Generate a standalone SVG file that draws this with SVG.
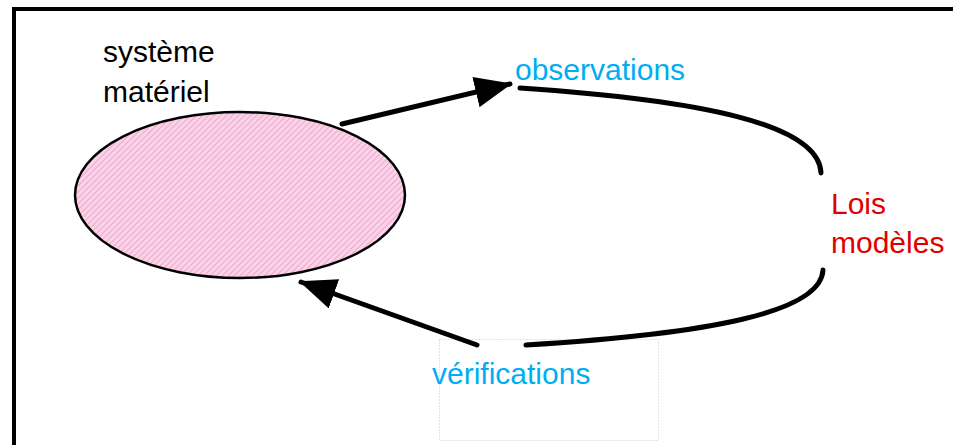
<svg xmlns="http://www.w3.org/2000/svg" width="953" height="445" viewBox="0 0 953 445">
  <style>
    .lbl { font-family: "Liberation Sans", Arial, sans-serif; font-size: 30px; }
    .blue { fill: #00aeef; }
    .red { fill: #e00000; }
    .black { fill: #000000; }
    .conn { fill: none; stroke: #000; stroke-width: 5; stroke-linecap: round; }
    .frame { stroke: #000; stroke-width: 4; fill: none; }
  </style>
  <defs>
    <pattern id="hatch" patternUnits="userSpaceOnUse" x="0" y="0" width="6" height="6">
      <rect x="0" y="0" width="6" height="6" fill="#fad3e8"/>
      <path d="M-1.5,1.5 L1.5,-1.5 M0,6 L6,0 M4.5,7.5 L7.5,4.5" stroke="#f4a8d2" stroke-width="1.2" fill="none"/>
    </pattern>
    <marker id="arrow" markerUnits="userSpaceOnUse" viewBox="0 0 37 31" markerWidth="37" markerHeight="31" refX="35" refY="15.5" orient="auto">
      <path d="M0,0 L37,15.5 L0,31 z" fill="#000"/>
    </marker>
  </defs>

  <rect x="0" y="0" width="953" height="445" fill="#ffffff"/>

  <g id="frame">
    <line class="frame" x1="12" y1="9" x2="953" y2="9"/>
    <line class="frame" x1="14" y1="7" x2="14" y2="445"/>
  </g>

  <g id="systeme-materiel">
    <ellipse cx="240" cy="195" rx="165" ry="83" fill="url(#hatch)" stroke="#000" stroke-width="2.5"/>
    <text class="lbl black" x="103" y="62">système</text>
    <text class="lbl black" x="103" y="102">matériel</text>
  </g>

  <g id="observations">
    <text class="lbl blue" x="515" y="80">observations</text>
  </g>

  <g id="lois-modeles">
    <text class="lbl red" x="831" y="214">Lois</text>
    <text class="lbl red" x="831" y="253">modèles</text>
  </g>

  <g id="verifications">
    <rect x="439.5" y="339.5" width="219" height="101" fill="none" stroke="#c8c8c8" stroke-width="1" stroke-dasharray="1,2"/>
    <text class="lbl blue" x="432" y="384">vérifications</text>
  </g>

  <g id="connectors">
    <line class="conn" x1="342" y1="124" x2="510" y2="84" marker-end="url(#arrow)"/>
    <path class="conn" d="M520,88 C700,100 819,124 821,173"/>
    <path class="conn" d="M823,270 C821,313 706,334 526,345"/>
    <line class="conn" x1="477" y1="345" x2="301" y2="282" marker-end="url(#arrow)"/>
  </g>
</svg>
